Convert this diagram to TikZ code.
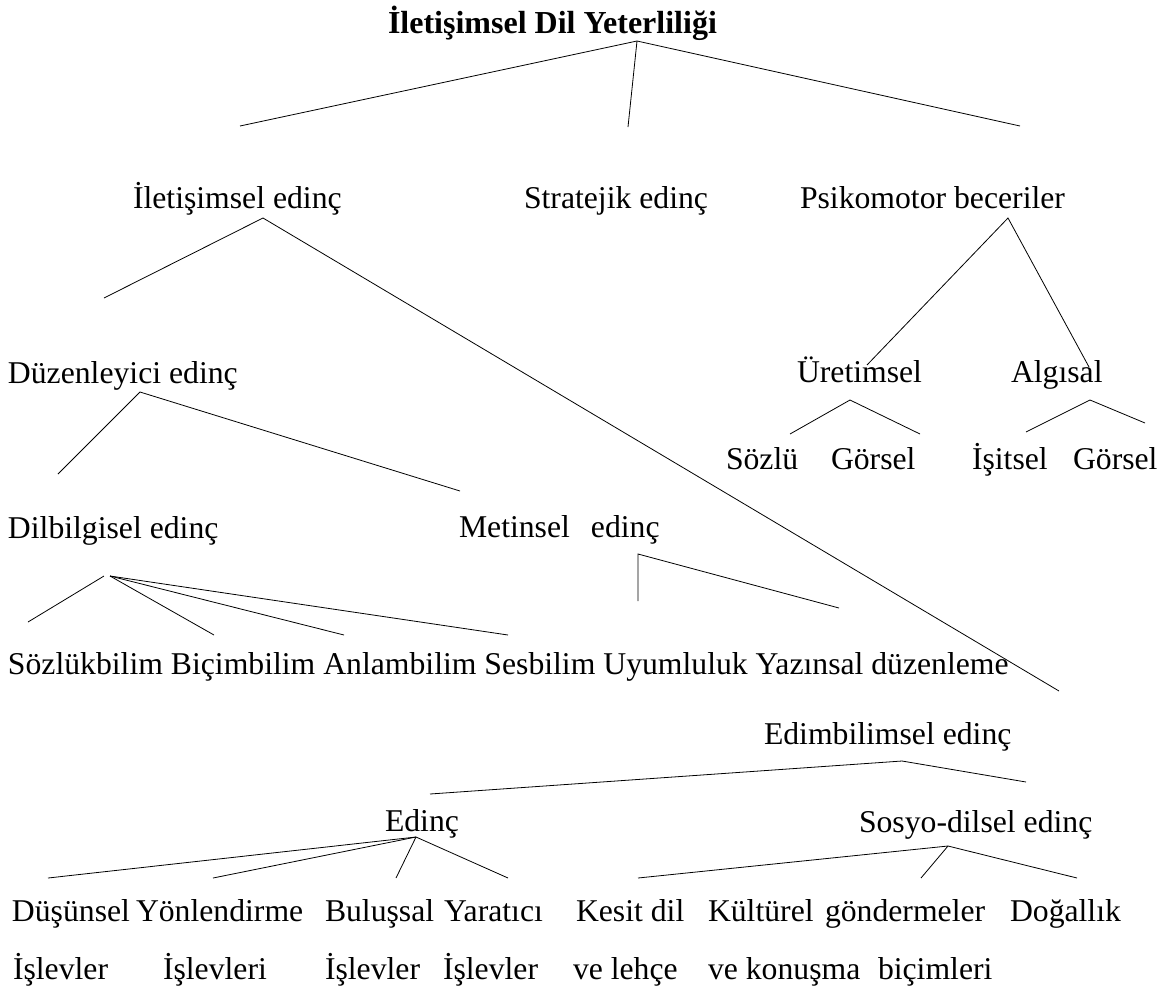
\documentclass[tikz,border=0pt]{standalone}
\usepackage{fontspec}
\setmainfont{Liberation Serif}
\usepackage{tikz}
\tikzset{etiket/.style={anchor=base west, inner sep=0pt, outer sep=0pt},
	dal/.style={line width=0.8pt}}

\begin{document}
\begin{tikzpicture}[x=1pt, y=-1pt, font=\fontsize{31.7}{38}\selectfont]
		\useasboundingbox (0,0) rectangle (1172,997);
		\node[etiket, font=\fontsize{32}{38}\selectfont\bfseries] (baslik) at (388,33) {İletişimsel Dil Yeterliliği};
		\node[etiket] (iletisim) at (133,208) {İletişimsel edinç};
		\node[etiket] (strateji) at (524,208) {Stratejik edinç};
		\node[etiket] (psiko) at (800,208) {Psikomotor beceriler};
		\node[etiket] (duzen) at (8,383) {Düzenleyici edinç};
		\node[etiket] (uretim) at (797,382) {Üretimsel};
		\node[etiket] (algi) at (1011,382) {Algısal};
		\node[etiket] (sozlu) at (726,469) {Sözlü};
		\node[etiket] (gorselA) at (831,469) {Görsel};
		\node[etiket] (isitsel) at (972,469) {İşitsel};
		\node[etiket] (gorselB) at (1073,469) {Görsel};
		\node[etiket] (dilbilgi) at (8,538) {Dilbilgisel edinç};
		\node[etiket] (metin) at (459,537) {Metinsel\hspace{21pt}edinç};
		\node[etiket] (bilimler) at (8,674) {Sözlükbilim Biçimbilim Anlambilim Sesbilim Uyumluluk Yazınsal düzenleme};
		\node[etiket] (edim) at (764,744) {Edimbilimsel edinç};
		\node[etiket] (edinc) at (385,831) {Edinç};
		\node[etiket] (sosyo) at (859,832) {Sosyo-dilsel edinç};
		\node[etiket] (dusun) at (12,921) {Düşünsel};
		\node[etiket] (yonlen) at (136,921) {Yönlendirme};
		\node[etiket] (bulus) at (325,921) {Buluşsal};
		\node[etiket] (yarat) at (444,921) {Yaratıcı};
		\node[etiket] (kesit) at (576,921) {Kesit dil};
		\node[etiket] (kultur) at (708,921) {Kültürel};
		\node[etiket] (gonder) at (825,921) {göndermeler};
		\node[etiket] (dogal) at (1010,921) {Doğallık};
		\node[etiket] (islevA) at (13,979) {İşlevler};
		\node[etiket] (islevB) at (163,979) {İşlevleri};
		\node[etiket] (islevC) at (325,979) {İşlevler};
		\node[etiket] (islevD) at (443,979) {İşlevler};
		\node[etiket] (lehce) at (573,979) {ve lehçe};
		\node[etiket] (konusma) at (708,979) {ve konuşma};
		\node[etiket] (bicim) at (878,979) {biçimleri};
		% uc noktalar
		\coordinate (baslik-u) at (637,41);
		\coordinate (iletisim-o) at (240,126);
		\coordinate (strateji-o) at (628,127);
		\coordinate (psiko-o) at (1020,126);
		\coordinate (iletisim-u) at (263,218);
		\coordinate (duzen-o) at (104,298);
		\coordinate (edim-o) at (1059,691);
		\coordinate (psiko-u) at (1008,218);
		\coordinate (uretim-o) at (867,365);
		\coordinate (algi-o) at (1089,367);
		\coordinate (duzen-u) at (140,392);
		\coordinate (dilbilgi-o) at (58,474);
		\coordinate (metin-o) at (460,491);
		\coordinate (uretim-u) at (850,400);
		\coordinate (sozlu-o) at (790,434);
		\coordinate (gorselA-o) at (920,434);
		\coordinate (algi-u) at (1090,400);
		\coordinate (isitsel-o) at (1026,432);
		\coordinate (gorselB-o) at (1145,423);
		\coordinate (dilbilgi-u) at (104,576);
		\coordinate (dilbilgi-v) at (110,576);
		\coordinate (sozluk-o) at (28,622);
		\coordinate (bicimb-o) at (214,635);
		\coordinate (anlam-o) at (344,635);
		\coordinate (ses-o) at (508,635);
		\coordinate (metin-u) at (638,554);
		\coordinate (uyum-o) at (638,601);
		\coordinate (yazin-o) at (839,608);
		\coordinate (edim-u) at (902,761);
		\coordinate (edinc-o) at (430,794);
		\coordinate (sosyo-o) at (1026,782);
		\coordinate (edinc-u) at (416,837);
		\coordinate (dusun-o) at (48,878);
		\coordinate (yonlen-o) at (213,878);
		\coordinate (bulus-o) at (396,878);
		\coordinate (yarat-o) at (508,878);
		\coordinate (sosyo-u) at (948,846);
		\coordinate (kesit-o) at (638,878);
		\coordinate (kultur-o) at (921,878);
		\coordinate (dogal-o) at (1077,878);
		% dallar
		\foreach \alt in {iletisim-o, strateji-o, psiko-o}
			\draw[dal] (baslik-u) -- (\alt);
		\draw[dal] (duzen-o) -- (iletisim-u) -- (edim-o);
		\draw[dal] (uretim-o) -- (psiko-u) -- (algi-o);
		\draw[dal] (dilbilgi-o) -- (duzen-u) -- (metin-o);
		\draw[dal] (sozlu-o) -- (uretim-u) -- (gorselA-o);
		\draw[dal] (isitsel-o) -- (algi-u) -- (gorselB-o);
		\draw[dal] (sozluk-o) -- (dilbilgi-u);
		\foreach \alt in {bicimb-o, anlam-o, ses-o}
			\draw[dal] (dilbilgi-v) -- (\alt);
		\draw[dal] (uyum-o) -- (metin-u) -- (yazin-o);
		\draw[dal] (edinc-o) -- (edim-u) -- (sosyo-o);
		\foreach \alt in {dusun-o, yonlen-o, bulus-o, yarat-o}
			\draw[dal] (edinc-u) -- (\alt);
		\foreach \alt in {kesit-o, kultur-o, dogal-o}
			\draw[dal] (sosyo-u) -- (\alt);
	\end{tikzpicture}
\end{document}
